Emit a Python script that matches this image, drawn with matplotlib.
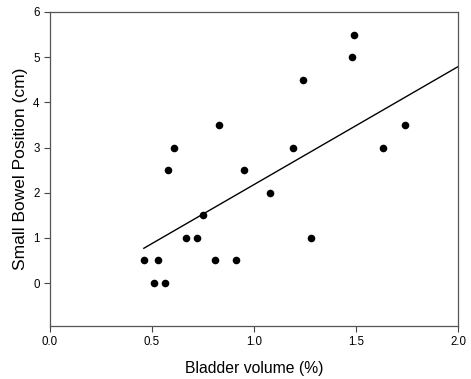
import matplotlib
matplotlib.use("Agg")
import matplotlib.pyplot as plt
import numpy as np

plt.rcParams['font.family'] = ['Liberation Sans', 'DejaVu Sans']

bladder_volume = [0.46, 0.53, 0.51, 0.565, 0.667, 0.72, 0.75, 0.81, 0.91, 1.08,
                  0.58, 0.95, 0.83, 0.61, 1.49, 1.48, 1.24, 1.19, 1.63, 1.74, 1.28]
bowel_position = [0.5, 0.5, 0.0, 0.0, 1.0, 1.0, 1.5, 0.5, 0.5, 2.0,
                  2.5, 2.5, 3.5, 3.0, 5.5, 5.0, 4.5, 3.0, 3.0, 3.5, 1.0]
fit_slope = 2.61
fit_intercept = -0.43
fit_range = [0.46, 2.0]
x_ticks = [0.0, 0.5, 1.0, 1.5, 2.0]
y_ticks = [0, 1, 2, 3, 4, 5, 6]

fig = plt.figure(figsize=(4.71, 3.79), dpi=100)
ax = fig.add_axes([50/471, 1-326/379, (458-50)/471, (326-12)/379])

ax.scatter(bladder_volume, bowel_position, s=30, color='black', zorder=3, linewidths=0)
fx = np.array(fit_range)
ax.plot(fx, fit_slope*fx + fit_intercept, color='black', linewidth=1.0)

ax.set_xlim(0, 2.0)
ax.set_ylim(-0.95, 6)
ax.set_xticks(x_ticks)
ax.set_xticklabels([f"{v:.1f}" for v in x_ticks])
ax.set_yticks(y_ticks)
ax.tick_params(axis='both', labelsize=8.3, length=4, width=0.8, color='#444444', direction='out')
for s in ax.spines.values():
    s.set_color('#555555')
    s.set_linewidth(0.9)
ax.set_xlabel('Bladder volume (%)', fontsize=11.3, labelpad=9)
ax.set_ylabel('Small Bowel Position (cm)', fontsize=12.5, labelpad=4)

fig.savefig('out.png', dpi=100)
